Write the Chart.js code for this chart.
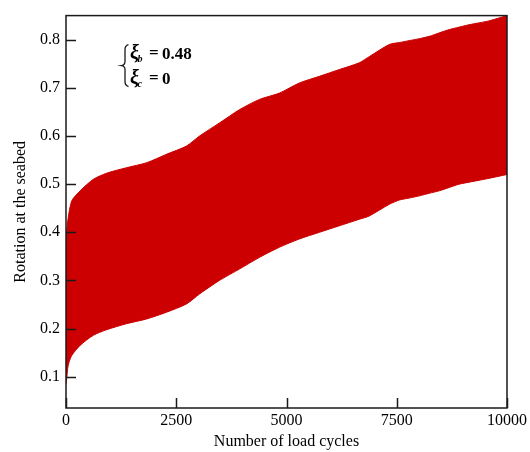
<!DOCTYPE html>
<html>
<head>
<meta charset="utf-8">
<script src="https://cdn.jsdelivr.net/npm/chart.js@4"></script>
<style>
html,body{margin:0;padding:0;background:#fff;}
#wrap{width:530px;height:452px;}
</style>
</head>
<body>
<div id="wrap"><canvas id="c" width="530" height="452"></canvas></div>
<script>
const cycles = [0, 15, 50, 130, 320, 620, 920, 1370, 1830, 2280, 2730, 3030, 3480, 3940, 4390, 4840, 5290, 5750, 6200, 6650, 6880, 7330, 7560, 7780, 8010, 8240, 8460, 8690, 8910, 9140, 9370, 9590, 10000];
const upperRotation = [0.36, 0.40, 0.43, 0.465, 0.486, 0.510, 0.5226, 0.534, 0.5445, 0.562, 0.579, 0.600, 0.627, 0.655, 0.676, 0.689, 0.710, 0.724, 0.738, 0.752, 0.765, 0.790, 0.794, 0.798, 0.802, 0.807, 0.814, 0.821, 0.826, 0.831, 0.835, 0.839, 0.85];
const lowerRotation = [0.085, 0.095, 0.124, 0.144, 0.165, 0.186, 0.1975, 0.210, 0.220, 0.234, 0.251, 0.272, 0.300, 0.324, 0.348, 0.369, 0.386, 0.400, 0.4135, 0.427, 0.434, 0.458, 0.467, 0.471, 0.4756, 0.481, 0.486, 0.493, 0.4998, 0.504, 0.508, 0.512, 0.52];
const xTicks = [0, 2500, 5000, 7500, 10000];
const yTicks = [0.1, 0.2, 0.3, 0.4, 0.5, 0.6, 0.7, 0.8];
const xTitle = 'Number of load cycles';
const yTitle = 'Rotation at the seabed';
const xiB = '0.48';
const xiC = '0';

const RED = '#cc0000';
const FONT = '"Liberation Serif", "Times New Roman", serif';

const toPts = (ys) => cycles.map((x, i) => ({x: x, y: ys[i]}));

const framePlugin = {
  id: 'frame',
  afterDraw(chart) {
    const ctx = chart.ctx;
    const a = chart.chartArea;
    const xs = chart.scales.x, ys = chart.scales.y;
    ctx.save();
    ctx.strokeStyle = '#1a1a1a';
    ctx.lineWidth = 1.5;
    ctx.strokeRect(a.left, a.top, a.right - a.left, a.bottom - a.top);
    ctx.beginPath();
    yTicks.forEach(v => {
      const py = Math.round(ys.getPixelForValue(v)) + 0.5;
      ctx.moveTo(a.left, py); ctx.lineTo(a.left + 10, py);
    });
    xTicks.forEach(v => {
      const px = Math.round(xs.getPixelForValue(v)) + 0.5;
      ctx.moveTo(px, a.bottom); ctx.lineTo(px, a.bottom - 10);
    });
    ctx.stroke();

    // annotation brace
    const bx = a.left + 59, top = a.top + 29, bot = a.top + 71, mid = (top + bot) / 2;
    ctx.lineWidth = 1.3;
    ctx.beginPath();
    ctx.moveTo(bx + 3.5, top);
    ctx.quadraticCurveTo(bx, top + 1, bx, top + 5);
    ctx.lineTo(bx, mid - 4);
    ctx.quadraticCurveTo(bx, mid - 0.5, bx - 3.5, mid);
    ctx.quadraticCurveTo(bx, mid + 0.5, bx, mid + 4);
    ctx.lineTo(bx, bot - 5);
    ctx.quadraticCurveTo(bx, bot - 1, bx + 3.5, bot);
    ctx.stroke();

    ctx.fillStyle = '#000';
    ctx.textBaseline = 'alphabetic';
    ctx.textAlign = 'left';
    const drawLine = (sub, val, base) => {
      const x0 = a.left + 64;
      ctx.font = 'italic bold 20px ' + FONT;
      ctx.fillText('ξ', x0, base);
      ctx.font = 'italic bold 10px ' + FONT;
      ctx.fillText(sub, x0 + 7.5, base + 3);
      ctx.font = 'bold 17px ' + FONT;
      ctx.fillText('=', x0 + 19, base - 0.5);
      ctx.fillText(val, x0 + 32, base);
    };
    drawLine('b', xiB, a.top + 43);
    drawLine('c', xiC, a.top + 68);
    ctx.restore();
  }
};

new Chart(document.getElementById('c'), {
  type: 'line',
  data: {
    datasets: [
      {data: toPts(upperRotation), borderColor: RED, backgroundColor: RED, borderWidth: 1, pointRadius: 0, fill: '+1', tension: 0.25},
      {data: toPts(lowerRotation), borderColor: RED, backgroundColor: RED, borderWidth: 1, pointRadius: 0, fill: false, tension: 0.25}
    ]
  },
  options: {
    responsive: false,
    animation: false,
    devicePixelRatio: 1,
    layout: {padding: {left: 0, top: 14, right: 22, bottom: 0}},
    plugins: {legend: {display: false}, tooltip: {enabled: false}},
    scales: {
      x: {
        type: 'linear', min: 0, max: 10000,
        afterBuildTicks: s => { s.ticks = xTicks.map(v => ({value: v})); },
        afterFit: s => { s.height = 44; },
        grid: {display: false, drawTicks: false},
        border: {display: false},
        ticks: {padding: 3, color: '#000', font: {family: FONT, size: 16}, callback: v => String(v), maxRotation: 0},
        title: {display: true, text: xTitle, color: '#000', font: {family: FONT, size: 16}, padding: {top: 0, bottom: 1}}
      },
      y: {
        type: 'linear', min: 0.035, max: 0.85,
        afterBuildTicks: s => { s.ticks = yTicks.map(v => ({value: v})); },
        afterFit: s => { s.width = 66; },
        grid: {display: false, drawTicks: false},
        border: {display: false},
        ticks: {padding: 6, color: '#000', font: {family: FONT, size: 16}, callback: v => Number(v).toFixed(1)},
        title: {display: true, text: yTitle, color: '#000', font: {family: FONT, size: 16}, padding: {top: 11, bottom: 0}}
      }
    }
  },
  plugins: [framePlugin]
});
</script>
</body>
</html>
